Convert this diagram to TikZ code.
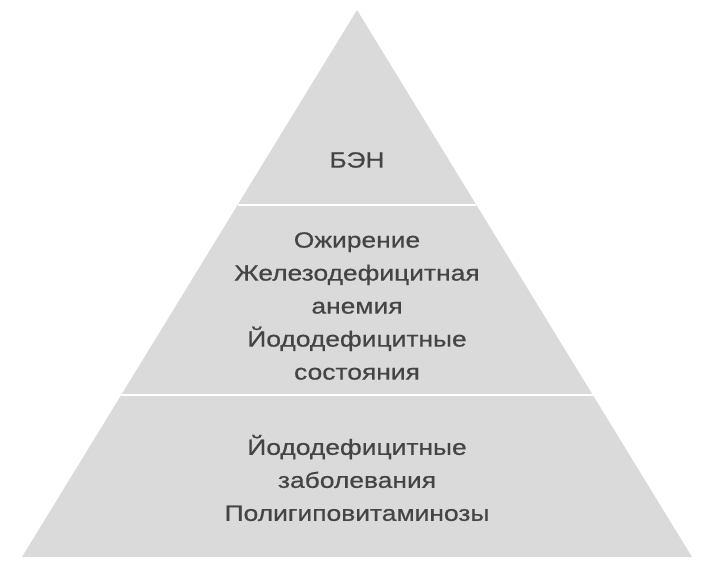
\documentclass[tikz,border=0pt]{standalone}
\usepackage{fontspec}
\setmainfont{Liberation Sans}[FakeStretch=1.2,FakeBold=0.6]
\definecolor{pyrfill}{HTML}{DADADA}
\definecolor{pyrtext}{HTML}{444444}
\begin{document}
\begin{tikzpicture}[x=1pt,y=-1pt,
  tierlabel/.style={text=pyrtext,align=center,font=\fontsize{22}{33}\selectfont,inner sep=0pt},
  sepline/.style={draw=white,line width=2pt}]
\useasboundingbox (0,0) rectangle (714,570);
\fill[pyrfill] (357,10) coordinate (apex) -- (692,557) coordinate (br) -- (22,557) coordinate (bl) -- cycle;
\path (apex) -- (bl) coordinate[pos=0.3565] (l1) coordinate[pos=0.7035] (l2);
\path (apex) -- (br) coordinate[pos=0.3565] (r1) coordinate[pos=0.7035] (r2);
\draw[sepline] (l1) -- (r1);
\draw[sepline] (l2) -- (r2);
\node[tierlabel] (top) at (357,160) {БЭН};
\node[tierlabel] (mid) at (357,306) {Ожирение\\Железодефицитная\\анемия\\Йододефицитные\\состояния};
\node[tierlabel] (bot) at (357,478) {Йододефицитные\\заболевания\\Полигиповитаминозы};
\end{tikzpicture}
\end{document}
